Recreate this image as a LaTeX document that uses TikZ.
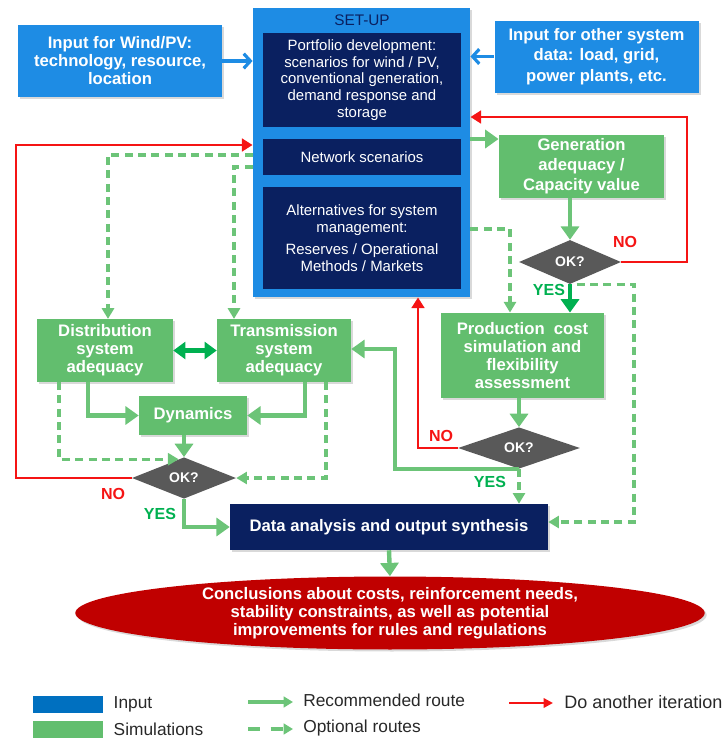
\documentclass[tikz,border=0pt]{standalone}
\usepackage{fontspec}
\setmainfont{Liberation Sans}
\usetikzlibrary{positioning,arrows.meta,shapes.geometric,calc,shadows}
\definecolor{inblue}{RGB}{30,140,228}
\definecolor{legblue}{RGB}{0,112,192}
\definecolor{navy}{RGB}{10,32,96}
\definecolor{simgreen}{RGB}{98,190,110}
\definecolor{routegreen}{RGB}{108,196,120}
\definecolor{deepgreen}{RGB}{0,176,80}
\definecolor{okgray}{RGB}{89,89,89}
\definecolor{iterred}{RGB}{245,20,20}
\definecolor{ellred}{RGB}{192,0,0}
\definecolor{legtext}{RGB}{40,40,40}

\begin{document}
\begin{tikzpicture}[x=0.75pt,y=-0.75pt,
  boxfont/.style={font=\fontsize{12.5}{13.5}\selectfont\bfseries},
  shade/.style={drop shadow={opacity=0.3,shadow xshift=1.5pt,shadow yshift=-1.5pt}},
  inbox/.style={rectangle,fill=inblue,text=white,boxfont,align=center,shade,
    minimum width=153pt,minimum height=54pt,inner sep=2pt},
  simbox/.style={rectangle,fill=simgreen,text=white,boxfont,align=center,shade,inner sep=2pt},
  navybox/.style={rectangle,fill=navy,text=white,align=center,minimum width=148.5pt,
    font=\fontsize{11.2}{12.5}\selectfont,inner sep=1pt},
  okdiam/.style={diamond,fill=okgray,text=white,inner sep=0pt,
    font=\fontsize{10.5}{12}\selectfont\bfseries},
  yeslab/.style={text=deepgreen,font=\fontsize{12}{14}\selectfont\bfseries},
  nolab/.style={text=iterred,font=\fontsize{12}{14}\selectfont\bfseries},
  rec/.style={draw=routegreen,line width=3.3pt,-{Triangle[length=10pt,width=13.5pt]}},
  recdeep/.style={draw=deepgreen,line width=3.3pt,-{Triangle[length=10pt,width=13.5pt]}},
  opt/.style={draw=routegreen,line width=2.4pt,dash pattern=on 6pt off 4pt,
    -{Triangle[length=8pt,width=9pt]}},
  iter/.style={draw=iterred,line width=2pt,-{Triangle[length=8pt,width=9.5pt]}},
  inarr/.style={draw=inblue,line width=2.4pt,-{Straight Barb[length=5pt,width=11pt]}},
  legbox/.style={rectangle,minimum width=52.5pt,minimum height=12.75pt,inner sep=0pt},
  legtxt/.style={text=legtext,font=\fontsize{13}{15}\selectfont,anchor=west,inner sep=0pt}
]
\useasboundingbox (0,0) rectangle (724,740);

% inputs and set-up
\node[inbox] (wind) at (120,61) {Input for Wind/PV:\\technology, resource,\\location};
\node[inbox,font=\fontsize{12.5}{15.5}\selectfont\bfseries] (other) at (596.5,56.5) {Input for other system\\data: load, grid,\\power plants, etc.};
\node[rectangle,fill=inblue,shade,minimum width=163pt,minimum height=217pt] (setup) at (361.5,152.5) {};
\node[text=navy,font=\fontsize{11.5}{13}\selectfont] (setuplab) at (362,20) {SET-UP};
\node[navybox,minimum height=70.5pt] (port) at (362,80) {Portfolio development:\\scenarios for wind / PV,\\conventional generation,\\demand response and\\storage};
\node[navybox,minimum height=27pt] (net) at (362,157) {Network scenarios};
\node[navybox,minimum height=76.5pt] (alt) at (362,238) {Alternatives for system\\management:\\[4pt]Reserves / Operational\\Methods / Markets};

% simulations
\node[simbox,minimum width=124pt,minimum height=47pt,font=\fontsize{12.5}{15}\selectfont\bfseries] (gen) at (581.5,166.5) {Generation\\adequacy /\\Capacity value};
\node[okdiam,minimum width=76.5pt,minimum height=33pt] (ok1) at (570,262) {OK?};
\node[simbox,minimum width=122pt,minimum height=64pt] (prod) at (522.5,355.5) {Production~ cost\\simulation and\\flexibility\\assessment};
\node[okdiam,minimum width=91.5pt,minimum height=31pt] (ok2) at (519,448) {OK?};
\node[simbox,minimum width=102pt,minimum height=47pt] (dis) at (105,350.5) {Distribution\\system\\adequacy};
\node[simbox,minimum width=100.5pt,minimum height=47pt] (tra) at (284,350.5) {Transmission\\system\\adequacy};
\node[simbox,minimum width=81pt,minimum height=29pt] (dyn) at (193,415.5) {Dynamics};
\node[okdiam,minimum width=78pt,minimum height=31pt] (ok3) at (184,478) {OK?};

% results
\node[rectangle,fill=navy,text=white,boxfont,shade,minimum width=238.5pt,minimum height=34.5pt] (data) at (389,527) {Data analysis and output synthesis};
\node[ellipse,fill=ellred,text=white,align=center,shade,inner sep=0pt,minimum width=472pt,minimum height=54pt,
  font=\fontsize{12.5}{13.5}\selectfont\bfseries] (concl) at (390,613) {Conclusions about costs, reinforcement needs,\\stability constraints, as well as potential\\improvements for rules and regulations};

% connectors
\draw[inarr] (wind.east) -- (wind.east -| setup.west);
\draw[inarr] (other.west) -- (other.west -| setup.east);
\draw[rec] (setup.east |- 0,139) -- (gen.west |- 0,139);
\draw[rec] (gen.south -| ok1.north) -- (ok1.north);
\draw[iter] (ok1.east) -| (687,117) -- (setup.east |- 0,117);
\draw[recdeep] (ok1.south) -- (ok1.south |- prod.north);
\draw[opt] ([xshift=5pt]ok1.south) -| (634,522) -- (data.east |- 0,522);
\draw[opt] (setup.east |- 0,229) -| (prod.north -| 510,0);
\draw[rec] (prod.south -| ok2.north) -- (ok2.north);
\draw[iter] (ok2.west) -| (setup.south -| 418,0);
\draw[rec] (ok2.south) -| (395,349) -- (tra.east |- 0,349);
\draw[opt] (ok2.south) -- (ok2.south |- data.north);
\draw[opt] (setup.west |- 0,155) -| (dis.north -| 108,0);
\draw[opt] (setup.west |- 0,167) -| (tra.north -| 234,0);
\draw[iter] (ok3.west) -| (16,145) -- (setup.west |- 0,145);
\draw[draw=deepgreen,line width=3.3pt,{Triangle[length=9pt,width=12.5pt]}-{Triangle[length=9pt,width=12.5pt]}] (dis.east) -- (tra.west);
\draw[rec] (dis.south -| 88,0) |- (dyn.west);
\draw[rec] (tra.south -| 305,0) |- (dyn.east);
\draw[rec] (dyn.south -| ok3.north) -- (ok3.north);
\draw[opt] (dis.south -| 59,0) |- (ok3.106);
\draw[opt] (tra.south -| 326,0) |- (ok3.east);
\draw[rec] (ok3.south) |- (data.west);
\draw[rec] (data.south) -- (concl.north);

% yes / no labels
\node[nolab] (no1) at (625,242) {NO};
\node[yeslab] (yes1) at (549,290) {YES};
\node[nolab] (no2) at (441,436) {NO};
\node[yeslab] (yes2) at (490,482) {YES};
\node[nolab] (no3) at (113,494) {NO};
\node[yeslab] (yes3) at (160,514) {YES};

% legend
\node[legbox,fill=legblue] (lin) at (67.5,704.5) {};
\node[legtxt,right=8pt of lin] {Input};
\node[legbox,fill=simgreen] (lsim) at (67.5,729.5) {};
\node[legtxt,right=8pt of lsim] {Simulations};
\coordinate (lrecA) at (248,702);
\coordinate (lrecB) at (293,702);
\draw[draw=routegreen,line width=2.4pt,-{Triangle[length=7pt,width=8pt]}] (lrecA) -- (lrecB);
\node[legtxt] (lrec) at (303,700) {Recommended route};
\coordinate (loptA) at (248,729);
\coordinate (loptB) at (293,729);
\draw[draw=routegreen,line width=2.4pt,dash pattern=on 9pt off 8pt,-{Triangle[length=7pt,width=8pt]}] (loptA) -- (loptB);
\node[legtxt] (lopt) at (303,728) {Optional routes};
\coordinate (litA) at (509,703);
\coordinate (litB) at (553,703);
\draw[draw=iterred,line width=2pt,-{Triangle[length=7pt,width=7pt]}] (litA) -- (litB);
\node[legtxt,font=\fontsize{13.5}{15}\selectfont] (lit) at (564,702) {Do another iteration};
\end{tikzpicture}
\end{document}
